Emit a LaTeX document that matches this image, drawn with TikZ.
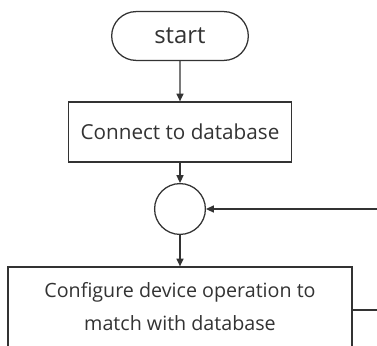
\documentclass[tikz,border=0pt]{standalone}
\usepackage{fontspec}
\setmainfont{Open Sans}
\usetikzlibrary{arrows.meta,shapes.misc}

\tikzset{
    flow line/.style={draw=black!80, line width=0.9pt},
    flow arrow/.style={flow line, -{Triangle[length=5.5pt,width=5pt]}},
    terminal/.style={rounded rectangle, flow line, minimum width=3.65cm, minimum height=1.22cm, font=\fontsize{17}{19}\selectfont, text=black!80},
    process/.style={rectangle, flow line, minimum width=5.575cm, minimum height=1.5cm, font=\fontsize{14.7}{16}\selectfont, text=black!80},
    junction/.style={circle, flow line, minimum size=1.27cm, inner sep=0pt},
}

\begin{document}
\begin{tikzpicture}[x=0.025cm, y=-0.025cm]
    \useasboundingbox (0,0) rectangle (377,345);
    \clip (0,0) rectangle (377,345);
    \node[terminal] (start) at (180,36) {start};
    \node[process] (connect) at (180,132) {Connect to database};
    \node[junction] (join) at (180,209) {};
    \node[process, minimum width=8.6cm, minimum height=2cm, align=center,
          font=\fontsize{14}{23.4}\selectfont] (config) at (180,307)
          {Configure device operation to\\match with database};
    \coordinate (loopin) at (377,209);
    \coordinate (loopout) at (377,310);

    \draw[flow arrow] (start) -- (connect);
    \draw[flow arrow] (connect) -- (join);
    \draw[flow arrow] (join) -- (config);
    \draw[flow arrow] (loopin) -- (join.east);
    \draw[flow line] (config.east |- loopout) -- (loopout);
\end{tikzpicture}
\end{document}
